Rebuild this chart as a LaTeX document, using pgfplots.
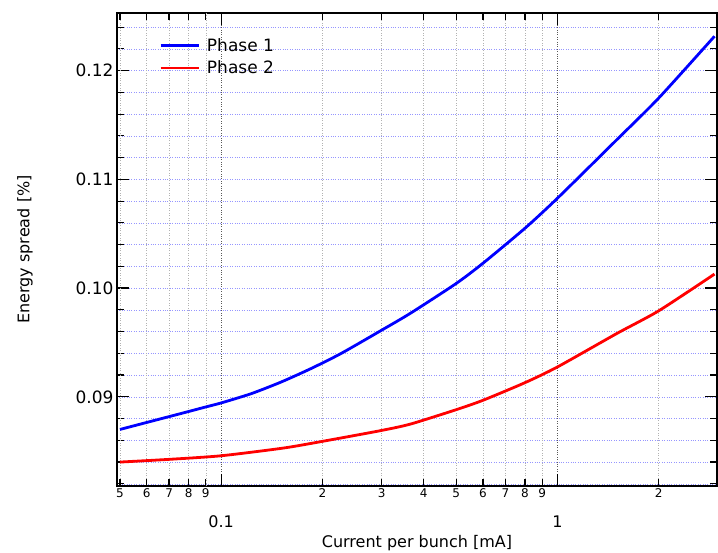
\documentclass[border=0pt]{standalone}
\usepackage{pgfplots}
\pgfplotsset{compat=1.18}
\usepackage{fontspec}
\setmainfont{DejaVu Sans}
\definecolor{gridblue}{RGB}{150,150,255}
\begin{document}
\begin{tikzpicture}
\useasboundingbox (-117pt,-67pt) rectangle (601pt,486pt);
\begin{axis}[
 scale only axis, width=600pt, height=473pt,
 at={(0pt,0pt)}, anchor=south west,
 xmode=log, xmin=0.049, xmax=2.98,
 ymin=0.0818, ymax=0.1253,
 /pgf/number format/assume math mode=true,
 axis line style={line width=1.4pt},
 tick align=inside,
 xtick={0.1,1}, xticklabels={0.1,1},
 minor xtick={},
 xticklabel style={font=\fontsize{16}{18}\selectfont, yshift=-26pt},
 extra x ticks={0.05,0.06,0.07,0.08,0.09,0.2,0.3,0.4,0.5,0.6,0.7,0.8,0.9,2},
 extra x tick labels={5,6,7,8,9,2,3,4,5,6,7,8,9,2},
 extra x tick style={major tick length=7pt, xticklabel style={font=\fontsize{12}{14}\selectfont, yshift=27pt}, grid=major, major grid style={dotted, black!30, line width=0.5pt}},
 major tick length=12pt, minor tick length=7pt,
 every tick/.style={black, line width=1.2pt},
 ytick={0.09,0.10,0.11,0.12}, yticklabels={0.09,0.10,0.11,0.12},
 minor ytick={0.082,0.084,0.086,0.088,0.090,0.092,0.094,0.096,0.098,0.100,0.102,0.104,0.106,0.108,0.110,0.112,0.114,0.116,0.118,0.120,0.122,0.124},
 yticklabel style={font=\fontsize{17}{19}\selectfont},
 xmajorgrids, yminorgrids,
 major grid style={dotted, black!65, line width=0.5pt},
 minor grid style={dotted, gridblue, line width=0.5pt},
 label style={font=\fontsize{16}{18}\selectfont},
 xlabel={Current per bunch [mA]},
 ylabel={Energy spread [\%]},
 xlabel style={at={(axis description cs:0.5,0)}, anchor=center, yshift=-57pt},
 ylabel style={at={(axis description cs:0,0.5)}, anchor=center, yshift=92pt},
 legend style={draw=none, fill=none, at={(axis description cs:0.065,0.955)}, anchor=north west, font=\fontsize{17}{19}\selectfont, row sep=4pt},
 legend cell align=left,
 legend image code/.code={\draw[#1] (0pt,0pt) -- (38pt,0pt);},
]
\addplot[blue, line width=2.8pt, smooth, tension=0.4] table {
x y
0.05 0.0870
0.06 0.08764
0.07 0.08818
0.08 0.08865
0.09 0.08907
0.1 0.08944
0.1228 0.09029
0.1507 0.09136
0.185 0.09260
0.227 0.09398
0.3 0.09613
0.366 0.09770
0.5 0.10043
0.6 0.10228
0.8 0.10550
1.0 0.10827
1.5 0.11364
2.0 0.11748
2.93 0.12316
};
\addlegendentry{\hspace{5pt}Phase 1}
\addplot[red, line width=2.8pt, smooth, tension=0.4] table {
x y
0.05 0.0840
0.07 0.08425
0.1 0.08458
0.154 0.08530
0.207 0.08599
0.3 0.08691
0.366 0.0875
0.5 0.08882
0.6 0.08968
0.8 0.09130
1.0 0.09275
1.5 0.09582
2.0 0.09791
2.93 0.10129
};
\addlegendentry{\hspace{5pt}Phase 2}
\end{axis}
\end{tikzpicture}
\end{document}
